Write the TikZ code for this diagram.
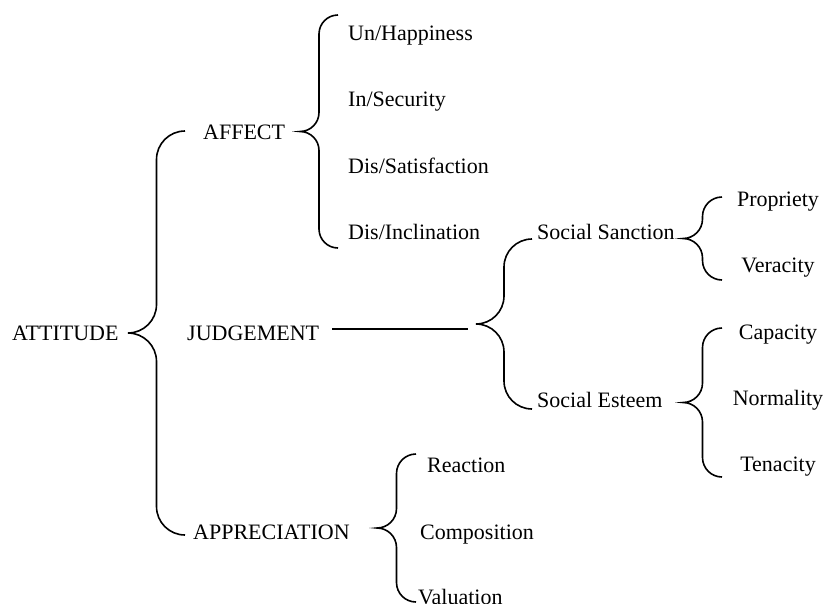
\documentclass[tikz,border=0pt]{standalone}
\usepackage{fontspec}
\setmainfont{Liberation Serif}
\usetikzlibrary{calc}
\tikzset{
  lbl/.style={anchor=base west, inner sep=0pt, font=\fontsize{22}{26}\selectfont},
  clbl/.style={lbl, anchor=base},
  curly/.style={line width=1.6pt, to path={
    let \p1=(\tikztostart), \p2=(\tikztotarget), \n1={#1/2} in
    .. controls (\x1-0.552*\n1,\y1) and (\x1-\n1,\y1+0.448*\n1) .. (\x1-\n1,\y1+\n1)
    -- (\x1-\n1,{0.5*\y1+0.5*\y2-\n1})
    .. controls (\x1-\n1,{0.5*\y1+0.5*\y2-0.448*\n1}) and (\x1-1.448*\n1,{0.5*\y1+0.5*\y2}) .. (\x1-2*\n1,{0.5*\y1+0.5*\y2})
    .. controls (\x1-1.448*\n1,{0.5*\y1+0.5*\y2}) and (\x1-\n1,{0.5*\y1+0.5*\y2+0.448*\n1}) .. (\x1-\n1,{0.5*\y1+0.5*\y2+\n1})
    -- (\x1-\n1,\y2-\n1)
    .. controls (\x1-\n1,\y2-0.448*\n1) and (\x1-0.552*\n1,\y2) .. (\p2)}},
  link/.style={line width=1.6pt}
}
\begin{document}
\begin{tikzpicture}[x=1pt,y=-1pt]
            \clip (0,0) rectangle (825,603);

            \node[lbl] (att) at (12,340) {ATTITUDE};
            \node[lbl] (aff) at (203,139) {AFFECT};
            \node[lbl] (judg) at (187,340) {JUDGEMENT};
            \node[lbl] (appr) at (193,539) {APPRECIATION};

            \node[lbl] (hap) at (348,40) {Un/Happiness};
            \node[lbl] (sec) at (348,106) {In/Security};
            \node[lbl] (sat) at (348,173) {Dis/Satisfaction};
            \node[lbl] (inc) at (348,239) {Dis/Inclination};

            \node[lbl] (sanc) at (537,239) {Social Sanction};
            \node[lbl] (est) at (537,407) {Social Esteem};

            \node[clbl] (prop) at (778,206) {Propriety};
            \node[clbl] (ver) at (778,272) {Veracity};
            \node[clbl] (cap) at (778,339) {Capacity};
            \node[clbl] (nor) at (778,405) {Normality};
            \node[clbl] (ten) at (778,471) {Tenacity};

            \node[lbl] (reac) at (427,472) {Reaction};
            \node[lbl] (comp) at (420,539) {Composition};
            \node[lbl] (val) at (418,604) {Valuation};

            \coordinate (attT) at (185,131);
            \coordinate (attB) at (185,535);
            \coordinate (affT) at (338,15);
            \coordinate (affB) at (338,248);
            \coordinate (judT) at (532,239);
            \coordinate (judB) at (532,409);
            \coordinate (sanT) at (722,197);
            \coordinate (sanB) at (722,280);
            \coordinate (estT) at (722,328);
            \coordinate (estB) at (722,477);
            \coordinate (appT) at (416,454);
            \coordinate (appB) at (416,602);
            \coordinate (jl) at (332,329);
            \coordinate (jr) at (468,329);

            \draw[curly=57] (attB) to (attT);
            \draw[curly=38] (affB) to (affT);
            \draw[curly=56] (judB) to (judT);
            \draw[curly=39] (sanB) to (sanT);
            \draw[curly=39] (estB) to (estT);
            \draw[curly=39] (appB) to (appT);

            \draw[link] (jl) -- (jr);
        \end{tikzpicture}
\end{document}
